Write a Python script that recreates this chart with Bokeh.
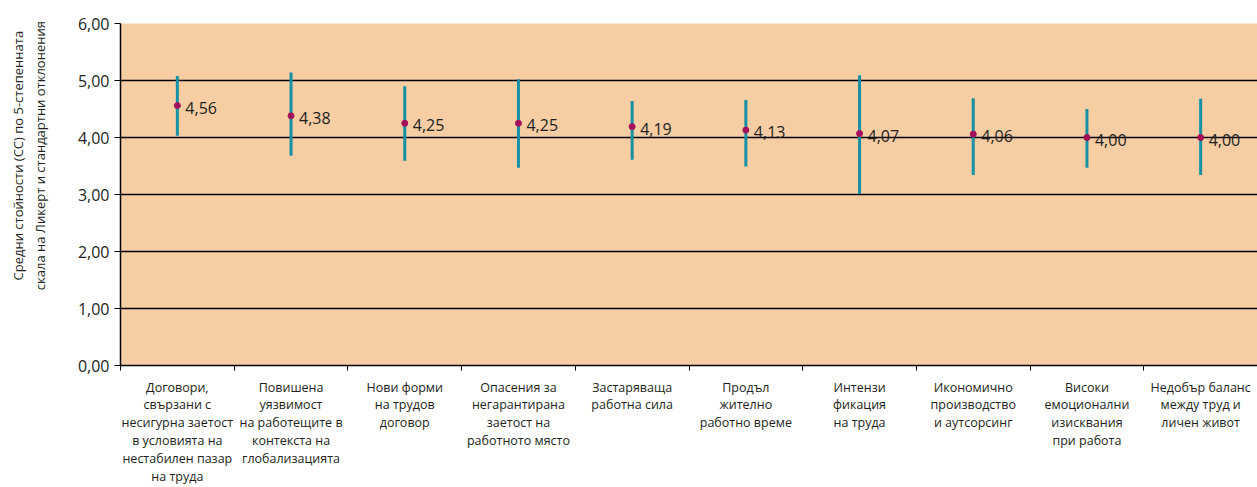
from bokeh.plotting import figure
from bokeh.models import Range1d, FixedTicker, ColumnDataSource
from bokeh.core.properties import value
from bokeh.embed import file_html
from bokeh.resources import INLINE

categories = [
    "Договори,\nсвързани с\nнесигурна заетост\nв условията на\nнестабилен пазар\nна труда",
    "Повишена\nуязвимост\nна работещите в\nконтекста на\nглобализацията",
    "Нови форми\nна трудов\nдоговор",
    "Опасения за\nнегарантирана\nзаетост на\nработното място",
    "Застаряваща\nработна сила",
    "Продъл\nжително\nработно време",
    "Интензи\nфикация\nна труда",
    "Икономично\nпроизводство\nи аутсорсинг",
    "Високи\nемоционални\nизисквания\nпри работа",
    "Недобър баланс\nмежду труд и\nличен живот",
]
means = [4.56, 4.38, 4.25, 4.25, 4.19, 4.13, 4.07, 4.06, 4.00, 4.00]
lower = [4.03, 3.68, 3.59, 3.47, 3.61, 3.49, 3.01, 3.34, 3.47, 3.34]
upper = [5.08, 5.14, 4.90, 5.02, 4.64, 4.66, 5.09, 4.69, 4.50, 4.68]
y_ticks = [0, 1, 2, 3, 4, 5, 6]
y_tick_labels = ["0,00", "1,00", "2,00", "3,00", "4,00", "5,00", "6,00"]
y_title_lines = ["Средни стойности (СС) по 5-степенната",
                 "скала на Ликерт и стандартни отклонения"]

n = len(categories)
xs = [i + 0.5 for i in range(n)]
labels = [f"{m:.2f}".replace(".", ",") for m in means]

src = ColumnDataSource(dict(x=xs, mean=means, lo=lower, hi=upper, lab=labels))

p = figure(width=1257, height=487, output_backend="svg", toolbar_location=None,
           x_range=Range1d(0, n), y_range=Range1d(0, 6),
           min_border_left=120, min_border_right=0, min_border_top=23, min_border_bottom=121)
p.background_fill_color = "#F7CDA4"
p.border_fill_color = "white"
p.outline_line_color = None

# grid
p.xgrid.grid_line_color = None
p.ygrid.grid_line_color = "black"
p.ygrid.grid_line_width = 1.5
p.ygrid.ticker = FixedTicker(ticks=y_ticks)

# y axis
p.yaxis.ticker = FixedTicker(ticks=y_ticks)
p.yaxis.major_label_overrides = {t: l for t, l in zip(y_ticks, y_tick_labels)}
p.yaxis.axis_line_color = "black"
p.yaxis.axis_line_width = 1.5
p.yaxis.major_tick_line_color = "black"
p.yaxis.major_tick_out = 6
p.yaxis.major_tick_in = 0
p.yaxis.minor_tick_line_color = None
p.yaxis.major_label_text_font = "Open Sans"
p.yaxis.major_label_text_font_size = "16px"
p.yaxis.major_label_text_color = "#231f20"
p.yaxis.major_label_standoff = 5
# non-breaking spaces at the start of each line lift the rotated title toward the top, as in the original
pad = "\u00a0" * 23
p.yaxis.axis_label = "\n".join(pad + line for line in y_title_lines)
p.yaxis.axis_label_text_font = "Open Sans"
p.yaxis.axis_label_text_font_size = "13px"
p.yaxis.axis_label_text_font_style = "normal"
p.yaxis.axis_label_text_color = "#231f20"
p.yaxis.axis_label_standoff = 26

# x axis: labels at centres, tick marks at boundaries
p.xaxis.ticker = FixedTicker(ticks=xs, minor_ticks=list(range(n + 1)))
p.xaxis.major_label_overrides = {x: c for x, c in zip(xs, categories)}
p.xaxis.axis_line_color = "black"
p.xaxis.axis_line_width = 1.5
p.xaxis.major_tick_line_color = None
p.xaxis.major_tick_out = 5
p.xaxis.minor_tick_line_color = "black"
p.xaxis.minor_tick_out = 5
p.xaxis.minor_tick_in = 0
p.xaxis.major_label_text_font = "Open Sans"
p.xaxis.major_label_text_font_size = "12.5px"
p.xaxis.major_label_text_line_height = 1.05
p.xaxis.major_label_text_color = "#231f20"
p.xaxis.major_label_standoff = 8

# error bars
p.segment(x0="x", y0="lo", x1="x", y1="hi", source=src, line_color="#1690A3", line_width=3)
# means
p.scatter(x="x", y="mean", source=src, size=6, fill_color="#A30F5A", line_color="#A30F5A")
# value labels
p.text(x="x", y="mean", text="lab", source=src, x_offset=8, y_offset=2,
       text_align="left", text_baseline="middle",
       text_font=value("Open Sans"), text_font_size="16px", text_color="#231f20")

open("out.html", "w").write(file_html(p, INLINE))
